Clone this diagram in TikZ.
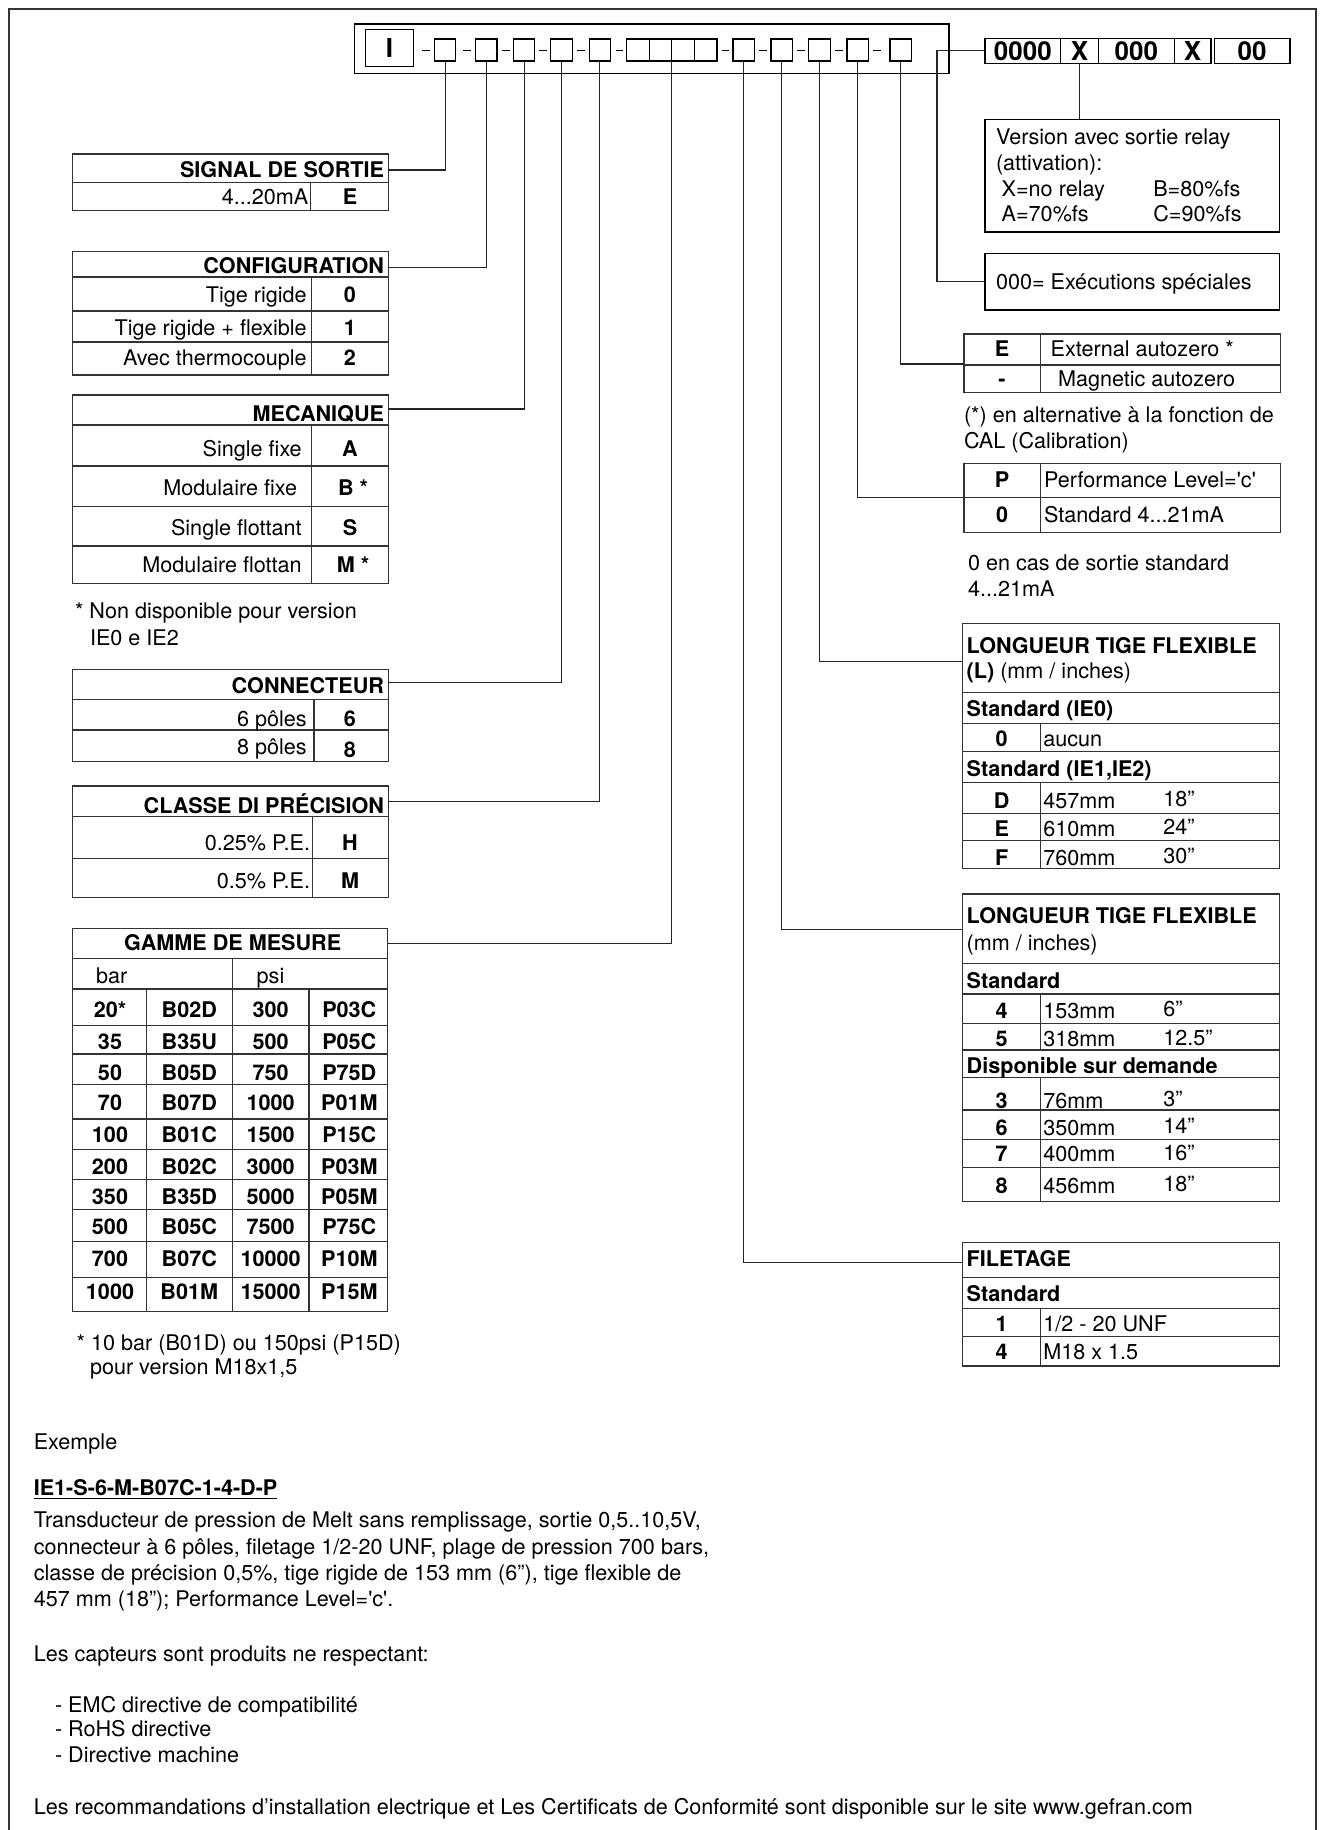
\documentclass[tikz,border=0pt]{standalone}
\usepackage{fontspec}
\setmainfont{TeX Gyre Heros}
\newcommand{\fs}{\fontsize{10.8}{13}\selectfont}
\newcommand{\fb}{\fontsize{13}{15}\selectfont\bfseries}
\begin{document}
\begin{tikzpicture}[x=0.5pt,y=-0.5pt,
  every node/.style={inner sep=0pt, outer sep=0pt},
  tl/.style={anchor=base west, font=\fs},
  tr/.style={anchor=base east, font=\fs},
  tc/.style={anchor=base, font=\fs},
  tlb/.style={anchor=base west, font=\fs\bfseries},
  trb/.style={anchor=base east, font=\fs\bfseries},
  tcb/.style={anchor=base, font=\fs\bfseries},
  cbox/.style={draw, line width=0.6pt, minimum width=10.75pt, minimum height=11pt},
  gbox/.style={draw, line width=0.6pt, minimum width=11.3pt, minimum height=11pt},
  rbox/.style={draw, line width=0.6pt, minimum height=12.5pt, font=\fb},
  tab/.style={draw=black!80, line width=0.6pt},
  link/.style={draw=black!85, line width=0.55pt},
  dsh/.style={draw, line width=0.5pt},
]
\useasboundingbox (0,0) rectangle (1324,1830);
% outer frame
\draw[line width=0.6pt, black!80] (9,1830) -- (9,9) -- (1316,9) -- (1316,1830);

% ---------- code line ----------
\draw[line width=0.6pt] (354.5,24) rectangle (949,73.3);
\node[draw, line width=0.6pt, minimum width=23.95pt, minimum height=18.7pt, font=\fb] (bI) at (389.5,48) {I};
\node[cbox] (b1) at (445.05,50) {};
\node[cbox] (b2) at (486.2,50) {};
\node[cbox] (b3) at (524.1,50) {};
\node[cbox] (b4) at (561.6,50) {};
\node[cbox] (b5) at (599.85,50) {};
\node[gbox] (g1) at (638.1,50) {};
\node[gbox] (g2) at (660.5,50) {};
\node[gbox] (g3) at (683.1,50) {};
\node[gbox] (g4) at (705.7,50) {};
\node[cbox] (b6) at (743.75,50) {};
\node[cbox] (b7) at (781.65,50) {};
\node[cbox] (b8) at (819.5,50) {};
\node[cbox] (b9) at (857.75,50) {};
\node[cbox] (b10) at (900.7,50) {};
\foreach \xa/\xb in {422.3/430,463.2/470.9,501.9/509.5,539/546.7,577.3/584.9,615.5/623.2,721.6/729.2,759/766.7,797/804.6,834.8/842.5,873/880.7}
  \draw[dsh] (\xa,50.7) -- (\xb,50.7);

\node[rbox, minimum width=37.85pt] (r1) at (1022.85,50.8) {0000};
\node[rbox, minimum width=18.8pt] (r2) at (1079.5,50.8) {X};
\node[rbox, minimum width=38pt] (r3) at (1136.3,50.8) {000};
\node[rbox, minimum width=18.35pt] (r4) at (1192.65,50.8) {X};
\node[rbox, minimum width=37.85pt] (r5) at (1252.15,50.8) {00};

% ---------- right column ----------
\node[draw, line width=0.6pt, anchor=north west, minimum width=147.15pt, minimum height=56.35pt] (ver) at (985,119.3) {};
\node[tl] (v1) at (996,145) {Version avec sortie relay};
\node[tl] (v2) at (996,171) {(attivation):};
\node[tl] (v3) at (1001.7,196.7) {X=no relay};
\node[tl] (v4) at (1153.3,196.7) {B=80\%fs};
\node[tl] (v5) at (1001.7,221.7) {A=70\%fs};
\node[tl] (v6) at (1153.3,221.7) {C=90\%fs};

\node[draw, line width=0.6pt, anchor=north west, minimum width=147.15pt, minimum height=28.35pt] (exe) at (985,253.3) {};
\node[tl] (exet) at (996,290) {000= Exécutions spéciales};

% E / -
\draw[tab] (964,334) rectangle (1280.7,392.7);
\draw[tab] (964,365) -- (1280.7,365) (1040.7,334) -- (1040.7,392.7);
\node[tcb] (ez1) at (1002,356) {E};
\node[tl] (ez2) at (1050.7,356) {External autozero *};
\node[tcb] (ez3) at (1002,386) {-};
\node[tl] (ez4) at (1058,386) {Magnetic autozero};
\coordinate (ezC) at (964,364);
\node[tl] (ezn1) at (964,422) {(*) en alternative à la fonction de};
\node[tl] (ezn2) at (964,448) {CAL (Calibration)};

% P / 0
\draw[tab] (964,463.3) rectangle (1280.7,532.7);
\draw[tab] (964,497.7) -- (1280.7,497.7) (1040.7,463.3) -- (1040.7,532.7);
\node[tcb] (p1) at (1002,487) {P};
\node[tl] (p2) at (1044,487) {Performance Level=\textquotesingle c\textquotesingle};
\node[tcb] (p3) at (1002,522) {0};
\node[tl] (p4) at (1044,522) {Standard 4...21mA};
\coordinate (pC) at (964,497.3);
\node[tl] (pn1) at (968,570) {0 en cas de sortie standard};
\node[tl] (pn2) at (968,596) {4...21mA};

% LONGUEUR 1
\draw[tab] (962.7,623.3) rectangle (1279.3,868.3);
\foreach \yy in {692.3,723.3,751.7,782.7,813.3,840.7} \draw[tab] (962.7,\yy) -- (1279.3,\yy);
\draw[tab] (1040.7,723.3) -- (1040.7,751.7) (1040.7,782.7) -- (1040.7,868.3);
\node[tlb] (la1) at (966.7,653.3) {LONGUEUR TIGE FLEXIBLE};
\node[tl] (la2) at (966.7,678.3) {\textbf{(L)} (mm / inches)};
\node[tlb] (la3) at (966.7,716) {Standard (IE0)};
\node[tcb] (la4) at (1001.7,746.7) {0};
\node[tl] (la5) at (1043.3,746.7) {aucun};
\node[tlb] (la6) at (966.7,776.7) {Standard (IE1,IE2)};
\foreach \yy/\c/\m/\n [count=\i] in {808.3/D/457mm/18”,836/E/610mm/24”,865/F/760mm/30”}{
  \node[tcb] (lac\i) at (1001.7,\yy) {\c};
  \node[tl] (lam\i) at (1043.3,\yy) {\m};
  \node[tl] (lan\i) at (1163.3,\yy-1.5) {\n};
}
\coordinate (laC) at (962.7,661.7);

% LONGUEUR 2
\draw[tab] (962.7,894) rectangle (1279.3,1201.7);
\foreach \yy in {963.3,994,1023.3,1050,1077.3,1110,1139.3,1167.3} \draw[tab] (962.7,\yy) -- (1279.3,\yy);
\draw[tab] (1040.7,994) -- (1040.7,1050) (1040.7,1077.3) -- (1040.7,1201.7);
\node[tlb] (lb1) at (966.7,923.3) {LONGUEUR TIGE FLEXIBLE};
\node[tl] (lb2) at (966.7,950) {(mm / inches)};
\node[tlb] (lb3) at (966.7,988.3) {Standard};
\node[tlb] (lb4) at (966.7,1073.3) {Disponible sur demande};
\foreach \yy/\c/\m/\n [count=\i] in {1018.3/4/153mm/6”,1046.7/5/318mm/12.5”,1108.3/3/76mm/3”,1135/6/350mm/14”,1161.7/7/400mm/16”,1193.3/8/456mm/18”}{
  \node[tcb] (lbc\i) at (1001.7,\yy) {\c};
  \node[tl] (lbm\i) at (1043.3,\yy) {\m};
  \node[tl] (lbn\i) at (1163.3,\yy-1.5) {\n};
}
\coordinate (lbC) at (962.7,929.3);

% FILETAGE
\draw[tab] (962.7,1242.7) rectangle (1279.3,1366);
\foreach \yy in {1277.3,1308.3,1336.7} \draw[tab] (962.7,\yy) -- (1279.3,\yy);
\draw[tab] (1040.7,1308.3) -- (1040.7,1366);
\node[tlb] (f1) at (966.7,1266.7) {FILETAGE};
\node[tlb] (f2) at (966.7,1301.7) {Standard};
\node[tcb] (f3) at (1001.7,1331) {1};
\node[tl] (f4) at (1043.3,1331) {1/2 - 20 UNF};
\node[tcb] (f5) at (1001.7,1359) {4};
\node[tl] (f6) at (1043.3,1359) {M18 x 1.5};
\coordinate (fC) at (962.7,1262.7);

% ---------- left column ----------
% SIGNAL
\draw[tab] (72.7,154) rectangle (388.3,210.7);
\draw[tab] (72.7,182.7) -- (388.3,182.7) (310.7,182.7) -- (310.7,210.7);
\node[trb] (s1) at (384,177.3) {SIGNAL DE SORTIE};
\node[tr] (s2) at (308.3,205) {4...20mA};
\node[tcb] (s3) at (350,205) {E};
\coordinate (sC) at (388.3,170);

% CONFIGURATION
\draw[tab] (72.7,251.7) rectangle (388.3,375);
\draw[tab] (72.7,277) -- (388.3,277) (72.7,311) -- (388.3,311) (72.7,342) -- (388.3,342) (311.7,277) -- (311.7,375);
\node[trb] (c0) at (384,273) {CONFIGURATION};
\foreach \yy/\t/\c [count=\i] in {302.5/Tige rigide/0,335.5/Tige rigide + flexible/1,365/Avec thermocouple/2}{
  \node[tr] (ct\i) at (306.7,\yy) {\t};
  \node[tcb] (cc\i) at (350,\yy) {\c};
}
\coordinate (cC) at (388.3,267.7);

% MECANIQUE
\draw[tab] (72.7,395) rectangle (388.3,583.3);
\foreach \yy in {425,466,506.7,546} \draw[tab] (72.7,\yy) -- (388.3,\yy);
\draw[tab] (311.7,425) -- (311.7,583.3);
\node[trb] (m0) at (384,421) {MECANIQUE};
\node[tr] (mt1) at (301.7,456) {Single fixe};
\node[tcb] (mc1) at (350,456) {A};
\node[tr] (mt2) at (297,495.5) {Modulaire fixe};
\node[tcb] (mc2) at (353,495.5) {B *};
\node[tr] (mt3) at (301.7,535.5) {Single flottant};
\node[tcb] (mc3) at (350,535.5) {S};
\node[tr] (mt4) at (301.7,572.5) {Modulaire flottan};
\node[tcb] (mc4) at (353,572.5) {M *};
\coordinate (mC) at (388.3,409);
\node[tl] (mn1) at (75,618) {* Non disponible pour version};
\node[tl] (mn2) at (90,645) {IE0 e IE2};

% CONNECTEUR
\draw[tab] (72.7,669.3) rectangle (388.3,761.7);
\draw[tab] (72.7,699.3) -- (388.3,699.3) (72.7,730) -- (388.3,730) (314,699.3) -- (314,761.7);
\node[trb] (k0) at (384,693.3) {CONNECTEUR};
\node[tr] (kt1) at (306.7,726) {6 pôles};
\node[tcb] (kc1) at (350,726) {6};
\node[tr] (kt2) at (306.7,754.5) {8 pôles};
\node[tcb] (kc2) at (350,757.5) {8};
\coordinate (kC) at (388.3,682.7);

% CLASSE
\draw[tab] (72.7,786) rectangle (388.3,897.3);
\draw[tab] (72.7,816.7) -- (388.3,816.7) (72.7,858.3) -- (388.3,858.3) (312.3,816.7) -- (312.3,897.3);
\node[trb] (p0) at (384,813) {CLASSE DI PRÉCISION};
\node[tr] (pt1) at (310,850) {0.25\% P.E.};
\node[tcb] (pc1) at (350,850) {H};
\node[tr] (pt2) at (310,888) {0.5\% P.E.};
\node[tcb] (pc2) at (350,888) {M};
\coordinate (clC) at (388.3,801.7);

% GAMME
\draw[tab] (72.7,928.3) rectangle (387.3,1311.7);
\draw[tab] (72.7,958.3) -- (387.3,958.3) (72.7,989) -- (387.3,989);
\foreach \yy in {1025.7,1054,1084.3,1119,1149.3,1179.3,1209.3,1241.7,1277.7} \draw[tab] (72.7,\yy) -- (387.3,\yy);
\draw[tab] (232.7,958.3) -- (232.7,1311.7) (146.7,989) -- (146.7,1311.7) (309,989) -- (309,1311.7);
\node[tcb] (ga0) at (232.7,950.7) {GAMME DE MESURE};
\node[tl] (gbar) at (96,983.3) {bar};
\node[tl] (gpsi) at (256.7,983.3) {psi};
\foreach \yy/\a/\b/\c/\d [count=\i] in {1017.3/20*/B02D/300/P03C,1049.6/35/B35U/500/P05C,1080/50/B05D/750/P75D,1110/70/B07D/1000/P01M,1142.3/100/B01C/1500/P15C,1174/200/B02C/3000/P03M,1204.6/350/B35D/5000/P05M,1234/500/B05C/7500/P75C,1266.3/700/B07C/10000/P10M,1299.6/1000/B01M/15000/P15M}{
  \node[tcb] (gA\i) at (110,\yy) {\a};
  \node[tcb] (gB\i) at (189.3,\yy) {\b};
  \node[tcb] (gC\i) at (270.7,\yy) {\c};
  \node[tcb] (gD\i) at (349.3,\yy) {\d};
}
\coordinate (gC) at (387.3,943.3);
\node[tl] (gn1) at (76.7,1350) {* 10 bar (B01D) ou 150psi (P15D)};
\node[tl] (gn2) at (90,1374) {pour version M18x1,5};

% ---------- connectors ----------
\draw[link] (b1.south) |- (sC);
\draw[link] (b2.south) |- (cC);
\draw[link] (b3.south) |- (mC);
\draw[link] (b4.south) |- (kC);
\draw[link] (b5.south) |- (clC);
\draw[link] (g2.south east) |- (gC);
\draw[link] (b6.south) |- (fC);
\draw[link] (b7.south) |- (lbC);
\draw[link] (b8.south) |- (laC);
\draw[link] (b9.south) |- (pC);
\draw[link] (b10.south) |- (ezC);
\draw[link] (r1.west) -- ++(-48,0) |- (exe.west);
\draw[link] (r2.south) -- (r2.south |- ver.north);

% ---------- bottom text ----------
\node[tl] (e1) at (33.8,1449) {Exemple};
\node[tl] (e2) at (33.8,1495) {\underline{\textbf{IE1-S-6-M-B07C-1-4-D-P}}};
\node[tl] (e3) at (33.8,1527.5) {Transducteur de pression de Melt sans remplissage, sortie 0,5..10,5V,};
\node[tl] (e4) at (33.8,1554) {connecteur à 6 pôles, filetage 1/2-20 UNF, plage de pression 700 bars,};
\node[tl] (e5) at (33.8,1580) {classe de précision 0,5\%, tige rigide de 153 mm (6”), tige flexible de};
\node[tl] (e6) at (33.8,1606) {457 mm (18”); Performance Level=\textquotesingle c\textquotesingle.};
\node[tl] (e7) at (33.8,1661) {Les capteurs sont produits ne respectant:};
\node[tl] (e8) at (55,1712.5) {- EMC directive de compatibilité};
\node[tl] (e9) at (55,1736.5) {- RoHS directive};
\node[tl] (e10) at (55,1762.5) {- Directive machine};
\node[tl] (e11) at (33.8,1814) {Les recommandations d’installation electrique et Les Certificats de Conformité sont disponible sur le site www.gefran.com};
\end{tikzpicture}
\end{document}
